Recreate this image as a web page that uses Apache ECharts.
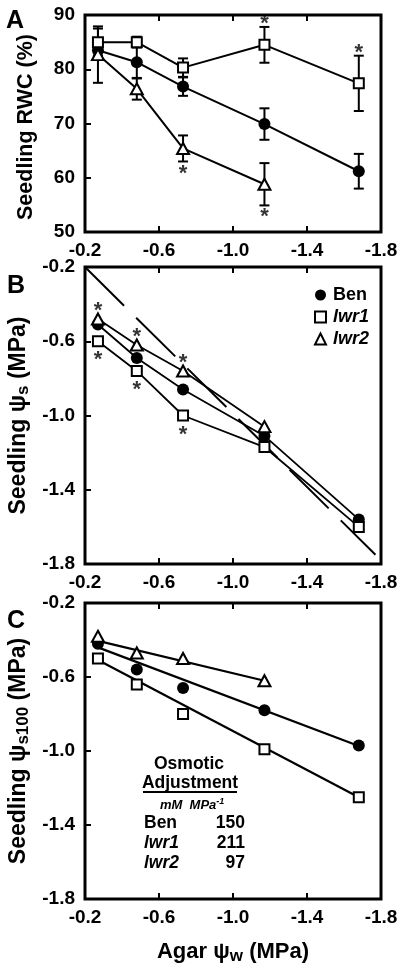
<!DOCTYPE html>
<html><head><meta charset="utf-8">
<script src="https://cdn.jsdelivr.net/npm/echarts@6/dist/echarts.min.js"></script>
<style>html,body{margin:0;padding:0;background:#fff}#c{width:404px;height:967px}</style>
</head><body><div id="c"></div>
<script>
// ---------- data ----------
const agarPsi = [-0.27, -0.48, -0.73, -1.17, -1.68];
const xTicks = [-0.2, -0.6, -1.0, -1.4, -1.8];
const rwcTicks = [50, 60, 70, 80, 90];
const psiTicks = [-1.8, -1.4, -1.0, -0.6, -0.2];

// Panel A: seedling RWC (%)
const rwcBen = [83.5, 81.3, 76.8, 69.9, 61.2];
const rwcBenErr = [1.0, 3.0, 1.7, 2.9, 3.2];
const rwcLwr1 = [85.0, 85.0, 80.3, 84.5, 77.4];
const rwcLwr1Err = [2.5, 1.0, 1.7, 3.3, 5.1];
const rwcLwr2 = [82.7, 76.4, 65.4, 58.8];
const rwcLwr2Err = [5.2, 2.0, 2.4, 3.9];
const rwcSigLwr1 = [0, 0, 0, 1, 1];
const rwcSigLwr2 = [0, 0, 1, 1];

// Panel B: seedling psi_s (MPa)
const psBen = [-0.51, -0.69, -0.86, -1.11, -1.56];
const psLwr1 = [-0.60, -0.76, -1.00, -1.17, -1.60];
const psLwr2 = [-0.48, -0.62, -0.76, -1.06];
const psSigLwr1 = [1, 1, 1, 0, 0];
const psSigLwr2 = [1, 1, 1, 0];
const oneToOneX = [-0.2, -1.77];
const oneToOneY = [-0.2, -1.75];

// Panel C: seedling psi_s100 (MPa)
const ps100Ben = [-0.42, -0.56, -0.66, -0.78, -0.97];
const ps100Lwr1 = [-0.50, -0.64, -0.80, -0.99, -1.25];
const ps100Lwr2 = [-0.38, -0.47, -0.50, -0.62];
const fitBenX = [-0.27, -1.68], fitBenY = [-0.44, -0.973];
const fitLwr1X = [-0.27, -1.68], fitLwr1Y = [-0.508, -1.25];
const fitLwr2X = [-0.27, -1.17], fitLwr2Y = [-0.405, -0.62];

const genotypes = ['Ben', 'lwr1', 'lwr2'];
const osmAdj = [150, 211, 97];

// ---------- chart ----------
const FONT = "'Liberation Sans', Arial, Helvetica, sans-serif";
const chart = echarts.init(document.getElementById('c'), null, {renderer: 'canvas'});

const gridBoxes = [
  {left: 85, top: 15, width: 296, height: 217},
  {left: 85, top: 267, width: 296, height: 297},
  {left: 85, top: 603, width: 296, height: 296}
];
const grid = gridBoxes.map(g => Object.assign({}, g, {
  show: true, borderColor: '#000', borderWidth: 3, backgroundColor: 'transparent',
  containLabel: false, outerBoundsMode: 'none'
}));

const tickStyle = {show: true, inside: true, length: 6, lineStyle: {color: '#000', width: 2}};
const labelStyle = {fontSize: 19, fontWeight: 'bold', color: '#000', fontFamily: FONT};

const xAxis = [];
[0, 1, 2].forEach(gi => {
  const base = {type: 'value', gridIndex: gi, min: -1.8, max: -0.2, inverse: true,
    splitLine: {show: false}, axisLine: {show: false}};
  const bottom = Object.assign({}, base, {
    position: 'bottom',
    axisTick: Object.assign({}, tickStyle, {customValues: xTicks}),
    axisLabel: Object.assign({show: true, customValues: xTicks, margin: 9,
      formatter: v => v.toFixed(1)}, labelStyle)
  });
  if (gi === 2) {
    bottom.name = '{a|Agar ψ}{s|w}{a| (MPa)}';
    bottom.nameLocation = 'middle';
    bottom.nameGap = 39;
    bottom.nameTextStyle = {rich: {
      a: {fontSize: 22, fontWeight: 'bold', color: '#000', fontFamily: FONT},
      s: {fontSize: 17, fontWeight: 'bold', color: '#000', fontFamily: FONT, padding: [10, 0, 0, 0]}
    }};
  }
  const top = Object.assign({}, base, {
    position: 'top',
    axisTick: Object.assign({}, tickStyle, {customValues: xTicks}),
    axisLabel: {show: false}
  });
  xAxis.push(bottom, top);
});

const richY = () => ({
  a: {fontSize: 23, fontWeight: 'bold', color: '#000', fontFamily: FONT},
  s: {fontSize: 17, fontWeight: 'bold', color: '#000', fontFamily: FONT, padding: [9, 0, 0, 0]}
});

const yAxis = [
  {type: 'value', gridIndex: 0, min: 50, max: 90, interval: 10,
    splitLine: {show: false}, axisLine: {show: false},
    axisTick: Object.assign({}, tickStyle),
    axisLabel: Object.assign({margin: 10}, labelStyle),
    name: 'Seedling RWC (%)', nameLocation: 'middle', nameGap: 48,
    nameTextStyle: {fontSize: 21.5, fontWeight: 'bold', color: '#000', fontFamily: FONT, padding: [0, 7, 0, 0]}},
  {type: 'value', gridIndex: 1, min: -1.8, max: -0.2,
    splitLine: {show: false}, axisLine: {show: false},
    axisTick: Object.assign({}, tickStyle, {customValues: psiTicks}),
    axisLabel: Object.assign({margin: 10, customValues: psiTicks, formatter: v => v.toFixed(1)}, labelStyle),
    name: '{a|Seedling ψ}{s|s}{a| (MPa)}', nameLocation: 'middle', nameGap: 53,
    nameTextStyle: {rich: richY()}},
  {type: 'value', gridIndex: 2, min: -1.8, max: -0.2,
    splitLine: {show: false}, axisLine: {show: false},
    axisTick: Object.assign({}, tickStyle, {customValues: psiTicks}),
    axisLabel: Object.assign({margin: 10, customValues: psiTicks, formatter: v => v.toFixed(1)}, labelStyle),
    name: '{a|Seedling ψ}{s|s100}{a| (MPa)}', nameLocation: 'middle', nameGap: 49,
    nameTextStyle: {rich: richY()}}
];

const markers = {
  Ben: {symbol: 'circle', symbolSize: 12, itemStyle: {color: '#000', borderColor: '#000', borderWidth: 0, opacity: 1}},
  lwr1: {symbol: 'rect', symbolSize: 10, itemStyle: {color: '#fff', borderColor: '#000', borderWidth: 2, opacity: 1}},
  lwr2: {symbol: 'triangle', symbolSize: [12, 11], itemStyle: {color: '#fff', borderColor: '#000', borderWidth: 2, opacity: 1}}
};

const pts = (xs, ys) => ys.map((y, i) => [xs[i], y]);

function lineSeries(gi, xs, ys, width, extra) {
  return Object.assign({type: 'line', name: 'line' + gi, xAxisIndex: gi * 2, yAxisIndex: gi,
    data: pts(xs, ys), showSymbol: false, symbol: 'none', silent: true, z: 2,
    lineStyle: {color: '#000', width: width, opacity: 1}}, extra || {});
}
function markerSeries(gi, name, xs, ys) {
  const m = markers[name];
  return {type: 'scatter', name: name, xAxisIndex: gi * 2, yAxisIndex: gi, data: pts(xs, ys),
    symbol: m.symbol, symbolSize: m.symbolSize, itemStyle: m.itemStyle, z: 4, silent: true};
}
function errSeries(gi, xs, ys, errs) {
  return {type: 'custom', xAxisIndex: gi * 2, yAxisIndex: gi, z: 1, silent: true,
    data: ys.map((y, i) => [xs[i], y, errs[i]]),
    encode: {x: 0, y: 1},
    renderItem: (params, api) => {
      const x = api.value(0), y = api.value(1), e = api.value(2);
      const t = api.coord([x, y + e]), b = api.coord([x, y - e]);
      const hw = 5, st = {stroke: '#000', lineWidth: 2};
      return {type: 'group', children: [
        {type: 'line', shape: {x1: t[0], y1: t[1], x2: b[0], y2: b[1]}, style: st},
        {type: 'line', shape: {x1: t[0] - hw, y1: t[1], x2: t[0] + hw, y2: t[1]}, style: st},
        {type: 'line', shape: {x1: b[0] - hw, y1: b[1], x2: b[0] + hw, y2: b[1]}, style: st}
      ]};
    }};
}
function starSeries(gi, xs, ys, flags, offY) {
  return {type: 'scatter', name: 'star' + gi, xAxisIndex: gi * 2, yAxisIndex: gi, silent: true, z: 5,
    symbolSize: 1, itemStyle: {color: 'rgba(0,0,0,0)'},
    data: pts(xs, ys).filter((d, i) => flags[i]),
    label: {show: true, position: 'inside', formatter: '*', offset: [0, offY],
      fontSize: 22, fontWeight: 'bold', color: '#000', fontFamily: FONT}};
}

const series = [
  // Panel A
  errSeries(0, agarPsi, rwcBen, rwcBenErr),
  errSeries(0, agarPsi, rwcLwr1, rwcLwr1Err),
  errSeries(0, agarPsi, rwcLwr2, rwcLwr2Err),
  lineSeries(0, agarPsi, rwcBen, 2),
  lineSeries(0, agarPsi, rwcLwr1, 2),
  lineSeries(0, agarPsi, rwcLwr2, 2),
  markerSeries(0, 'Ben', agarPsi, rwcBen),
  markerSeries(0, 'lwr1', agarPsi, rwcLwr1),
  markerSeries(0, 'lwr2', agarPsi, rwcLwr2),
  starSeries(0, agarPsi, rwcLwr1.map((v, i) => v + rwcLwr1Err[i]), rwcSigLwr1, -3),
  starSeries(0, agarPsi, rwcLwr2.map((v, i) => v - rwcLwr2Err[i]), rwcSigLwr2, 12),
  // Panel B
  lineSeries(1, oneToOneX, oneToOneY, 2, {lineStyle: {color: '#000', width: 2, type: [55, 17]}}),
  lineSeries(1, agarPsi, psBen, 1.8),
  lineSeries(1, agarPsi, psLwr1, 1.8),
  lineSeries(1, agarPsi, psLwr2, 1.8),
  markerSeries(1, 'Ben', agarPsi, psBen),
  markerSeries(1, 'lwr1', agarPsi, psLwr1),
  markerSeries(1, 'lwr2', agarPsi, psLwr2),
  starSeries(1, agarPsi, psLwr2, psSigLwr2, -8),
  starSeries(1, agarPsi, psLwr1, psSigLwr1, 19),
  // Panel C
  lineSeries(2, fitBenX, fitBenY, 2.2),
  lineSeries(2, fitLwr1X, fitLwr1Y, 2.2),
  lineSeries(2, fitLwr2X, fitLwr2Y, 2.2),
  markerSeries(2, 'Ben', agarPsi, ps100Ben),
  markerSeries(2, 'lwr1', agarPsi, ps100Lwr1),
  markerSeries(2, 'lwr2', agarPsi, ps100Lwr2)
];

const txt = (x, y, text, font, align, extra) => ({
  type: 'text', x: x, y: y, silent: true, z: 10,
  style: Object.assign({text: text, font: font, fill: '#000',
    align: align, verticalAlign: 'middle', textAlign: align, textVerticalAlign: 'middle'}, extra || {})
});
const B = (s) => 'bold ' + s + 'px ' + FONT;
const BI = (s) => 'italic bold ' + s + 'px ' + FONT;

const graphic = [
  txt(6, 21, 'A', B(25), 'left'),
  txt(7, 286, 'B', B(25), 'left'),
  txt(7, 621, 'C', B(25), 'left'),
  txt(189, 764, 'Osmotic', B(17.5), 'center'),
  txt(190, 783, 'Adjustment', B(17.5), 'center'),
  {type: 'line', silent: true, z: 10, shape: {x1: 143, y1: 792, x2: 237, y2: 792}, style: {stroke: '#000', lineWidth: 2}},
  txt(160, 805, '{i|mM  MPa}{sup|-1}', B(13), 'left', {rich: {
    i: {font: BI(13), fill: '#000'},
    sup: {font: BI(9), fill: '#000', padding: [0, 0, 7, 0]}
  }})
];
genotypes.forEach((g, i) => {
  const y = 823 + i * 20;
  graphic.push(txt(144, y, g, i === 0 ? B(17.5) : BI(17.5), 'left'));
  graphic.push(txt(245, y, String(osmAdj[i]), B(17.5), 'right'));
});

chart.setOption({
  animation: false,
  backgroundColor: '#fff',
  grid: grid,
  xAxis: xAxis,
  yAxis: yAxis,
  legend: {
    orient: 'vertical', left: 309, top: 281, itemWidth: 11, itemHeight: 11, itemGap: 4,
    selectedMode: false,
    itemStyle: {opacity: 1},
    textStyle: {fontSize: 18, fontWeight: 'bold', color: '#000', fontFamily: FONT, padding: [0, 0, 0, 2]},
    data: [
      {name: 'Ben', icon: 'circle'},
      {name: 'lwr1', icon: 'rect', textStyle: {fontStyle: 'italic'}},
      {name: 'lwr2', icon: 'triangle', textStyle: {fontStyle: 'italic'}}
    ]
  },
  graphic: graphic,
  series: series
});
</script></body></html>
